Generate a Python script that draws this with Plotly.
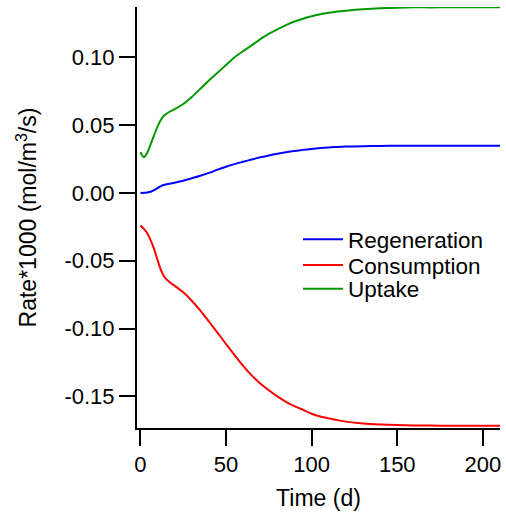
import plotly.graph_objects as go

# Time axis (days)
time_d = [0, 2, 4, 6, 8, 10, 12, 14, 17, 20, 25, 30, 35, 40, 45, 50, 55, 60, 65,
          70, 75, 80, 85, 90, 95, 100, 105, 110, 115, 120, 130, 140, 150, 160,
          170, 180, 190, 200, 210]

# Rates * 1000 (mol/m^3/s)
regeneration = [0.0000, 0.0000, 0.0003, 0.0008, 0.0020, 0.0035, 0.0050, 0.0060,
                0.0067, 0.0075, 0.0090, 0.0108, 0.0126, 0.0147, 0.0171, 0.0193,
                0.0212, 0.0229, 0.0246, 0.0262, 0.0276, 0.0289, 0.0300, 0.0309,
                0.0317, 0.0324, 0.0330, 0.0335, 0.0338, 0.0341, 0.0344, 0.0346,
                0.0347, 0.0347, 0.0347, 0.0347, 0.0347, 0.0347, 0.0347]

consumption = [-0.0240, -0.0265, -0.0297, -0.0350, -0.0415, -0.0495, -0.0570,
               -0.0620, -0.0657, -0.0685, -0.0733, -0.0795, -0.0868, -0.0948,
               -0.1030, -0.1115, -0.1195, -0.1275, -0.1345, -0.1405, -0.1455,
               -0.1500, -0.1540, -0.1572, -0.1600, -0.1628, -0.1648, -0.1662,
               -0.1675, -0.1686, -0.1700, -0.1707, -0.1711, -0.1714, -0.1715,
               -0.1716, -0.1716, -0.1716, -0.1716]

uptake = [0.0300, 0.0262, 0.0295, 0.0360, 0.0425, 0.0490, 0.0540, 0.0572, 0.0598,
          0.0617, 0.0655, 0.0707, 0.0767, 0.0828, 0.0885, 0.0943, 0.1000, 0.1045,
          0.1087, 0.1133, 0.1172, 0.1205, 0.1237, 0.1263, 0.1284, 0.1302, 0.1316,
          0.1327, 0.1336, 0.1343, 0.1354, 0.1361, 0.1365, 0.1368, 0.1367, 0.1369,
          0.1368, 0.1369, 0.1369]

y_tickvals = [-0.15, -0.10, -0.05, 0.00, 0.05, 0.10]
y_ticktext = ["-0.15", "-0.10", "-0.05", "0.00", "0.05", "0.10"]
x_tickvals = [0, 50, 100, 150, 200]

FONT = "Liberation Sans, Arial, sans-serif"

fig = go.Figure()
series = [
    ("Regeneration", regeneration, "#0000FF", "legend"),
    ("Consumption", consumption, "#FF0000", "legend2"),
    ("Uptake", uptake, "#009A00", "legend3"),
]
for name, vals, color, leg in series:
    fig.add_trace(go.Scatter(
        x=time_d, y=vals, name=name, mode="lines", legend=leg,
        line=dict(color=color, width=2, shape="spline", smoothing=0.6),
    ))

# one legend box per row so the rows sit at a tight spacing
legend_style = dict(
    x=0.4435, xanchor="left", yanchor="middle",
    bgcolor="rgba(0,0,0,0)", borderwidth=0,
    font=dict(family=FONT, size=22.5, color="black"),
    itemwidth=40,
)

fig.update_layout(
    width=506, height=512,
    margin=dict(l=137, r=6, t=7, b=84),
    paper_bgcolor="white", plot_bgcolor="white",
    font=dict(family=FONT, size=22, color="black"),
    showlegend=True,
    legend=dict(y=0.4475, **legend_style),
    legend2=dict(y=0.3860, **legend_style),
    legend3=dict(y=0.3300, **legend_style),
    xaxis=dict(
        range=[-2, 210], showgrid=False, zeroline=False,
        showline=True, linecolor="black", linewidth=2,
        ticks="outside", ticklen=16, tickwidth=2, tickcolor="black",
        tickvals=x_tickvals, tickfont=dict(size=22),
        title=dict(text="Time (d)", standoff=13,
                   font=dict(family=FONT, size=23, color="black")),
    ),
    yaxis=dict(
        range=[-0.1733, 0.137], showgrid=False, zeroline=False,
        showline=True, linecolor="black", linewidth=2,
        ticks="outside", ticklen=16, tickwidth=2, tickcolor="black",
        tickvals=y_tickvals, ticktext=y_ticktext, tickfont=dict(size=22),
        title=dict(text="Rate*1000 (mol/m<sup>3</sup>/s)", standoff=21,
                   font=dict(family=FONT, size=23, color="black")),
    ),
)

fig.write_html("out.html")
